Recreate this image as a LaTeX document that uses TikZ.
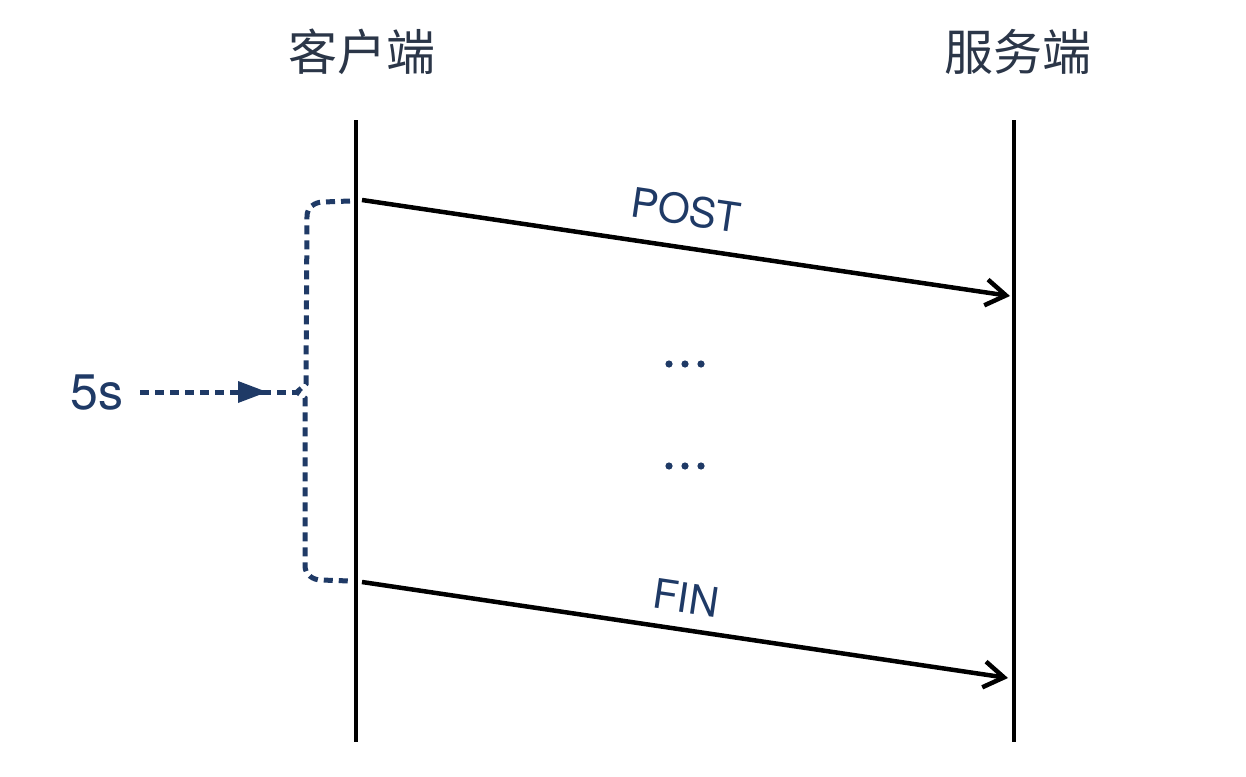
\documentclass[tikz,border=0pt]{standalone}
\usepackage{fontspec}
\setmainfont{TeX Gyre Heros}
\newfontfamily\cjk{Noto Sans CJK SC}
\usetikzlibrary{arrows.meta}
\definecolor{navy}{HTML}{1F3A66}
\definecolor{titlec}{HTML}{2B3648}
\tikzset{
  lifeline/.style={line width=4.5pt, black},
  msg/.style={line width=4.5pt, black, -{Straight Barb[length=20pt,width=26pt,line width=4.5pt]}},
  msglabel/.style={text=navy, font=\fontsize{41}{44}\selectfont, inner sep=0pt},
  title/.style={text=titlec, font=\cjk\fontsize{49}{52}\selectfont, inner sep=0pt},
  brk/.style={navy, line width=5pt, dash pattern=on 9pt off 6pt},
  dotc/.style={fill=navy, draw=none},
}
\begin{document}
\begin{tikzpicture}[x=1pt,y=-1pt]
\useasboundingbox[fill=white] (0,0) rectangle (1246,776);
% titles
\node[title] (client) at (362,52) {客户端};
\node[title] (server) at (1018,52) {服务端};
% lifelines
\coordinate (cTop) at (356,120);
\coordinate (cBot) at (356,742);
\coordinate (sTop) at (1014,120);
\coordinate (sBot) at (1014,742);
\draw[lifeline] (cTop) -- (cBot);
\draw[lifeline] (sTop) -- (sBot);
% messages
\coordinate (postA) at (362,200);
\coordinate (postB) at (1010,296);
\coordinate (finA) at (362,582);
\coordinate (finB) at (1008,678);
\draw[msg] (postA) -- (postB);
\draw[msg] (finA) -- (finB);
\node[msglabel, rotate=-8.4] (post) at (686,210) {POST};
\node[msglabel, rotate=-8.4] (fin) at (686,598) {FIN};
% dots
\foreach \y in {364,466}{
  \foreach \x in {669,685,701}{
    \fill[dotc] (\x,\y) circle (3.6pt);
  }
}
% bracket
\coordinate (tip) at (297,392);
\draw[brk] (350,201) -- (323,202) to[out=180,in=90] (307,216) -- (306,384) -- (tip) -- (305,398) -- (305,566) to[out=-90,in=180] (321,580) -- (350,581);
% 5s
\node[text=navy, font=\fontsize{50}{54}\selectfont, inner sep=0pt] (s5) at (97,393) {5s};
\coordinate (ah) at (267,392);
\draw[brk] (140,392) -- (ah);
\fill[navy] (238,381) -- (ah) -- (238,403) -- cycle;
\draw[brk, dash phase=-10pt] (ah) -- (tip);
\end{tikzpicture}
\end{document}
